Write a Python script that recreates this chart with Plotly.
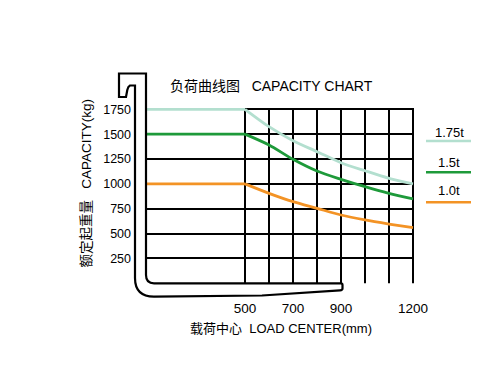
import plotly.graph_objects as go

# ---------------- data ----------------
load_center = [0, 500, 600, 700, 800, 900, 1000, 1100, 1200]
cap_175 = [1750, 1750, 1575, 1434, 1324, 1213, 1132, 1056, 1000]
cap_150 = [1500, 1500, 1391, 1247, 1129, 1046, 972, 905, 848]
cap_100 = [1000, 1000, 905, 821, 754, 687, 637, 596, 559]
series_names = ["1.75t", "1.5t", "1.0t"]
series_colors = ["#b3dfcf", "#1e9a3a", "#f39325"]
x_tick_vals = [500, 700, 900, 1200]
x_grid_vals = [500, 600, 700, 800, 900, 1000, 1100, 1200]
y_tick_vals = [250, 500, 750, 1000, 1250, 1500, 1750]
y_max = 1750

title_text = "负荷曲线图\u00a0\u00a0\u00a0CAPACITY CHART"
x_title = "载荷中心\u00a0\u00a0LOAD CENTER(mm)"
y_title = "额定起重量\u00a0\u00a0\u00a0CAPACITY(kg)"

# ---------------- layout geometry ----------------
W, H = 500, 390
ML, MR, MT, MB = 145, 86, 107, 106
PW, PH = W - ML - MR, H - MT - MB


def pxx(px):
    return (px - ML) / PW


def pyy(py):
    return (H - MB - py) / PH


FONT = "Liberation Sans, Arial, Noto Sans CJK SC, sans-serif"

fig = go.Figure()
for name, vals, col in zip(series_names, [cap_175, cap_150, cap_100], series_colors):
    # flat part (up to 500 mm) as straight line
    fig.add_trace(go.Scatter(
        x=load_center[:2], y=vals[:2], mode="lines", name=name,
        line=dict(color=col, width=2.8), showlegend=False, hoverinfo="skip",
    ))
    # derated part, smooth curve
    fig.add_trace(go.Scatter(
        x=load_center[1:], y=vals[1:], mode="lines", name=name,
        line=dict(color=col, width=2.8, shape="spline", smoothing=0.8),
        showlegend=False, hoverinfo="skip",
    ))

shapes = []
# vertical grid lines from 0 to max capacity, through the axes
for xv in x_grid_vals:
    shapes.append(dict(type="line", xref="x", yref="y", x0=xv, x1=xv, y0=0, y1=y_max,
                       line=dict(color="black", width=2), layer="below"))


# fork outline (decorative), pixel path converted to paper coords
def P(px, py):
    return f"{pxx(px):.5f},{pyy(py):.5f}"


fork_path = (
    f"M {P(119,73.5)} L {P(146,73.5)} L {P(146,275)} Q {P(146,283.3)} {P(154,283.3)} "
    f"L {P(341,283.3)} Q {P(342.5,283.3)} {P(342.5,285)} L {P(342.5,288.5)} "
    f"Q {P(342.5,290.2)} {P(340,290.4)} L {P(262,295.5)} L {P(154,296.6)} "
    f"Q {P(135,296.6)} {P(135,278)} L {P(135,85.5)} L {P(130,85.5)} "
    f"Q {P(128,86.5)} {P(127.3,90)} L {P(126,97)} L {P(119,97)} Z"
)
shapes.append(dict(type="path", path=fork_path, xref="paper", yref="paper",
                   line=dict(color="black", width=2.2), fillcolor="rgba(0,0,0,0)",
                   layer="above"))

annotations = [
    dict(text=title_text, x=pxx(168), y=pyy(85.5), xref="paper", yref="paper",
         xanchor="left", yanchor="middle", showarrow=False,
         font=dict(family=FONT, size=14, color="black")),
    dict(text=x_title, x=pxx(280.5), y=pyy(328), xref="paper", yref="paper",
         xanchor="center", yanchor="middle", showarrow=False,
         font=dict(family=FONT, size=13, color="black")),
    dict(text=y_title, x=pxx(86), y=pyy(183.5), xref="paper", yref="paper",
         xanchor="center", yanchor="middle", showarrow=False, textangle=-90,
         font=dict(family=FONT, size=13.5, color="black")),
]

legend_text_y = [132.5, 162.5, 190.5]
legend_line_y = [141, 172.3, 202.3]
for name, col, ty, ly in zip(series_names, series_colors, legend_text_y, legend_line_y):
    annotations.append(dict(text=name, x=pxx(449), y=pyy(ty), xref="paper", yref="paper",
                            xanchor="center", yanchor="middle", showarrow=False,
                            font=dict(family=FONT, size=13, color="black")))
    shapes.append(dict(type="line", xref="paper", yref="paper",
                       x0=pxx(426), x1=pxx(471), y0=pyy(ly), y1=pyy(ly),
                       line=dict(color=col, width=2.6)))

# y mapping: 0 at px 283.3, 1750 at px 109.3
k = (283.3 - 109.3) / 1750.0
y_lo = -(H - MB - 283.3) / k
y_hi = (283.3 - MT) / k

fig.update_layout(
    width=W, height=H,
    margin=dict(l=ML, r=MR, t=MT, b=MB, pad=0),
    paper_bgcolor="white", plot_bgcolor="white",
    shapes=shapes, annotations=annotations,
    showlegend=False,
    xaxis=dict(
        range=[83.33, 1204.17], tickmode="array", tickvals=x_tick_vals,
        ticktext=[str(v) for v in x_tick_vals],
        showgrid=False, zeroline=False, showline=False, ticks="",
        ticklabelstandoff=14,
        tickfont=dict(family=FONT, size=13.5, color="black"), automargin=False,
        fixedrange=True,
    ),
    yaxis=dict(
        range=[y_lo, y_hi], tickmode="array", tickvals=y_tick_vals,
        ticktext=[str(v) for v in y_tick_vals],
        showgrid=True, gridcolor="black", gridwidth=2,
        minor=dict(tickmode="array", tickvals=[0], showgrid=True,
                   gridcolor="black", gridwidth=2),
        zeroline=False, showline=False, ticks="", ticklabelstandoff=13,
        tickfont=dict(family=FONT, size=12.5, color="black"), automargin=False,
        fixedrange=True,
    ),
)

fig.write_html("out.html", config={"displayModeBar": False},
               post_script="document.body.style.margin='0';document.body.style.overflow='hidden';")
